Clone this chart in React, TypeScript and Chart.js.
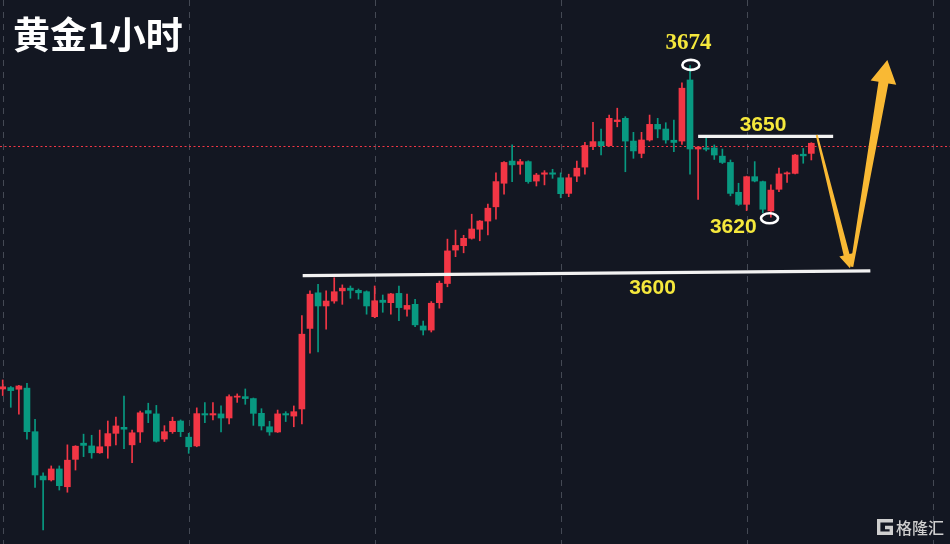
import React, { useEffect, useRef } from "react";
import { Chart, registerables } from "chart.js";

Chart.register(...registerables);

// ---- Data (gold, 1-hour candles) ----
const opens = [3557.3, 3557.8, 3557.2, 3557.6, 3541.7, 3525.5, 3524.1, 3528.1, 3521.6, 3531.6,
  3537.5, 3536.5, 3534.0, 3536.5, 3541.1, 3543.3, 3536.9, 3541.6, 3549.4, 3548.2,
  3539.0, 3541.7, 3545.6, 3539.7, 3536.5, 3548.3, 3547.8, 3548.2, 3546.7, 3554.3,
  3554.5, 3553.8, 3548.4, 3543.5, 3541.6, 3548.3, 3547.4, 3550.0, 3579.4, 3592.4,
  3587.6, 3589.4, 3593.1, 3594.1, 3593.3, 3592.8, 3583.7, 3589.7, 3588.8, 3592.2,
  3586.4, 3588.2, 3580.3, 3578.8, 3588.8, 3595.8, 3608.0, 3609.6, 3612.3, 3615.6,
  3618.6, 3623.8, 3632.4, 3640.5, 3639.3, 3640.3, 3633.2, 3635.7, 3636.2, 3634.4,
  3628.7, 3635.0, 3638.3, 3645.9, 3647.6, 3646.1, 3654.9, 3656.1, 3647.8, 3643.3,
  3648.2, 3653.9, 3652.2, 3648.1, 3647.8, 3670.1, 3644.9, 3645.3, 3645.3, 3642.3,
  3640.0, 3629.1, 3624.7, 3634.8, 3633.0, 3622.3, 3630.2, 3635.8, 3636.0, 3643.0,
  3643.3];

const highs = [3560.6, 3558.2, 3558.6, 3559.4, 3546.2, 3526.7, 3529.2, 3529.2, 3536.9, 3536.6,
  3540.8, 3540.4, 3542.3, 3545.6, 3547.0, 3554.7, 3542.3, 3549.2, 3552.1, 3551.3,
  3543.9, 3547.0, 3546.0, 3541.1, 3550.4, 3552.3, 3552.3, 3551.1, 3555.2, 3555.5,
  3557.3, 3554.0, 3550.1, 3545.5, 3549.6, 3549.0, 3551.1, 3584.1, 3593.1, 3595.5,
  3593.1, 3597.9, 3595.3, 3594.9, 3593.8, 3593.1, 3594.9, 3591.6, 3592.2, 3594.9,
  3591.9, 3590.0, 3582.1, 3589.2, 3596.7, 3612.0, 3615.3, 3613.4, 3621.1, 3618.8,
  3624.8, 3636.2, 3640.3, 3646.4, 3641.1, 3640.6, 3636.0, 3637.0, 3637.5, 3636.2,
  3635.7, 3640.5, 3647.3, 3654.6, 3652.2, 3657.3, 3659.8, 3656.7, 3651.0, 3651.0,
  3657.3, 3656.1, 3654.5, 3655.5, 3669.1, 3675.4, 3645.8, 3648.8, 3646.4, 3644.9,
  3640.9, 3632.4, 3635.0, 3640.3, 3633.2, 3631.8, 3637.9, 3636.6, 3643.0, 3645.1,
  3647.2];

const lows = [3554.9, 3550.6, 3548.1, 3539.0, 3521.4, 3505.8, 3523.7, 3520.4, 3519.6, 3527.7,
  3532.6, 3532.0, 3533.8, 3532.0, 3536.9, 3535.5, 3530.4, 3537.8, 3545.0, 3537.9,
  3538.1, 3541.1, 3539.9, 3533.8, 3536.2, 3545.0, 3546.0, 3541.6, 3544.5, 3552.4,
  3551.7, 3544.0, 3542.3, 3540.4, 3541.4, 3545.4, 3543.5, 3544.5, 3570.4, 3570.8,
  3579.1, 3588.6, 3588.2, 3590.4, 3590.1, 3584.6, 3583.3, 3585.3, 3584.6, 3582.2,
  3583.9, 3580.0, 3577.0, 3578.1, 3586.8, 3594.6, 3605.6, 3607.0, 3612.0, 3611.4,
  3613.5, 3619.3, 3628.4, 3633.0, 3635.7, 3632.4, 3631.4, 3631.8, 3634.2, 3627.1,
  3627.5, 3633.0, 3635.7, 3644.7, 3642.7, 3645.9, 3653.0, 3636.6, 3641.5, 3641.7,
  3647.8, 3649.0, 3647.0, 3643.9, 3646.6, 3635.7, 3626.5, 3644.2, 3641.1, 3639.6,
  3627.8, 3624.3, 3622.4, 3632.9, 3621.6, 3620.0, 3629.3, 3632.7, 3635.8, 3639.7,
  3640.9];

const closes = [3558.1, 3556.7, 3558.4, 3541.7, 3525.9, 3524.1, 3528.1, 3522.0, 3531.3, 3536.4,
  3536.7, 3534.0, 3536.2, 3541.0, 3543.8, 3542.6, 3541.3, 3548.6, 3548.4, 3538.2,
  3541.7, 3545.5, 3541.7, 3536.2, 3548.3, 3547.8, 3548.3, 3546.7, 3554.5, 3554.7,
  3553.8, 3548.4, 3543.8, 3541.6, 3548.2, 3547.8, 3549.0, 3577.3, 3591.9, 3587.6,
  3589.4, 3592.8, 3594.1, 3593.3, 3592.4, 3587.6, 3589.5, 3588.9, 3592.0, 3587.0,
  3587.8, 3580.7, 3578.8, 3588.6, 3595.9, 3607.7, 3609.7, 3612.3, 3615.7, 3618.6,
  3623.3, 3633.0, 3640.0, 3639.1, 3640.3, 3633.0, 3635.4, 3636.2, 3635.7, 3628.6,
  3634.4, 3637.9, 3646.2, 3647.6, 3646.1, 3656.1, 3655.5, 3647.8, 3644.2, 3648.2,
  3653.9, 3652.2, 3648.2, 3647.3, 3667.1, 3644.9, 3645.6, 3644.8, 3642.7, 3640.0,
  3628.7, 3624.7, 3634.8, 3633.2, 3622.9, 3629.9, 3635.8, 3636.2, 3642.7, 3642.4,
  3647.0];

// Vertical grid positions (candle index)
const gridIndices = [0, 23, 46, 69, 92, 115];

// Visible value window
const xRange = [-0.334, 117.15];
const yRange = [3500.7, 3699.3];

// Current price line
const currentPrice = 3646.1;

// Annotation anchors (candle index, price)
const resistanceLine = [[86.0, 3649.5], [102.7, 3649.5]];
const supportLine = [[37.1, 3598.7], [107.3, 3600.4]];
const downArrow = [[100.67, 3650.0], [104.78, 3601.35]];
const upArrow = [[105.0, 3601.9], [109.4, 3677.4]];
const circleMarks = [[85.1, 3675.6], [94.83, 3619.6]];
const priceLabels = ["3674", "3650", "3620", "3600"];
const priceLabelAnchors = [[84.81, 3683.8], [94.03, 3654.0], [90.35, 3616.7], [80.36, 3594.3]];

const titleText = "黄金1小时";
const logoText = "格隆汇";

const UP = "#f23645";
const DOWN = "#089981";
const BG = "#131722";
const YELLOW = "#f5e83c";
const ORANGE = "#f9b934";

function drawArrow(ctx: CanvasRenderingContext2D, x0: number, y0: number, x1: number, y1: number,
  tailW: number, shaftW: number, headLen: number, headW: number) {
  const dx = x1 - x0, dy = y1 - y0;
  const len = Math.hypot(dx, dy);
  const ux = dx / len, uy = dy / len;
  const nx = -uy, ny = ux;
  const bx = x1 - ux * headLen, by = y1 - uy * headLen;
  ctx.beginPath();
  ctx.moveTo(x0 + nx * tailW / 2, y0 + ny * tailW / 2);
  ctx.lineTo(bx + nx * shaftW / 2, by + ny * shaftW / 2);
  ctx.lineTo(bx + nx * headW / 2, by + ny * headW / 2);
  ctx.lineTo(x1, y1);
  ctx.lineTo(bx - nx * headW / 2, by - ny * headW / 2);
  ctx.lineTo(bx - nx * shaftW / 2, by - ny * shaftW / 2);
  ctx.lineTo(x0 - nx * tailW / 2, y0 - ny * tailW / 2);
  ctx.closePath();
  ctx.fill();
}

const overlayPlugin = {
  id: "overlay",
  beforeDraw(chart: any) {
    const ctx = chart.ctx;
    ctx.save();
    ctx.fillStyle = BG;
    ctx.fillRect(0, 0, chart.width, chart.height);
    ctx.restore();
  },
  beforeDatasetsDraw(chart: any) {
    const ctx = chart.ctx;
    const xs = chart.scales.x, ys = chart.scales.y;
    const { top, bottom, left, right } = chart.chartArea;
    ctx.save();
    // vertical dashed grid
    ctx.strokeStyle = "rgba(110,114,126,0.55)";
    ctx.lineWidth = 1;
    ctx.setLineDash([6, 6]);
    gridIndices.forEach((g) => {
      const x = Math.round(xs.getPixelForValue(g)) + 0.5;
      ctx.beginPath();
      ctx.moveTo(x, top);
      ctx.lineTo(x, bottom);
      ctx.stroke();
    });
    // current price dotted line
    ctx.strokeStyle = UP;
    ctx.lineWidth = 1.2;
    ctx.setLineDash([2, 2.5]);
    const py = Math.round(ys.getPixelForValue(currentPrice)) + 0.5;
    ctx.beginPath();
    ctx.moveTo(left, py);
    ctx.lineTo(right, py);
    ctx.stroke();
    ctx.restore();
  },
  afterDatasetsDraw(chart: any) {
    const ctx = chart.ctx;
    const xs = chart.scales.x, ys = chart.scales.y;
    const px = (p: number[]) => [xs.getPixelForValue(p[0]), ys.getPixelForValue(p[1])];
    ctx.save();

    // white horizontal levels
    ctx.strokeStyle = "#f2f2f2";
    ctx.lineWidth = 3.2;
    ctx.lineCap = "butt";
    [resistanceLine, supportLine].forEach((ln) => {
      const a = px(ln[0]), b = px(ln[1]);
      ctx.beginPath();
      ctx.moveTo(a[0], a[1]);
      ctx.lineTo(b[0], b[1]);
      ctx.stroke();
    });

    // arrows
    ctx.fillStyle = ORANGE;
    {
      const a = px(downArrow[0]), b = px(downArrow[1]);
      drawArrow(ctx, a[0], a[1], b[0], b[1], 2, 6, 14, 15);
    }
    {
      const a = px(upArrow[0]), b = px(upArrow[1]);
      drawArrow(ctx, a[0], a[1], b[0], b[1], 3, 10, 23, 26);
    }

    // circles
    ctx.strokeStyle = "#ffffff";
    ctx.lineWidth = 2.6;
    circleMarks.forEach((c) => {
      const p = px(c);
      ctx.beginPath();
      ctx.ellipse(p[0], p[1], 8.5, 5, 0, 0, Math.PI * 2);
      ctx.stroke();
    });

    // price labels
    ctx.fillStyle = YELLOW;
    ctx.textAlign = "center";
    ctx.textBaseline = "middle";
    priceLabels.forEach((t, i) => {
      const p = px(priceLabelAnchors[i]);
      ctx.font = i === 0 ? 'bold 23px "Liberation Serif"' : 'bold 21px "Liberation Sans"';
      ctx.fillText(t, p[0], p[1] + 1);
    });

    // title
    ctx.fillStyle = "#ffffff";
    ctx.textAlign = "left";
    ctx.font = 'bold 37px "Noto Sans CJK SC"';
    ctx.fillText(titleText, 13, 35);

    // logo
    ctx.strokeStyle = "#cfcfcf";
    ctx.lineWidth = 3.4;
    ctx.lineJoin = "miter";
    ctx.beginPath();
    ctx.moveTo(893, 520.7);
    ctx.lineTo(878.7, 520.7);
    ctx.lineTo(878.7, 533.3);
    ctx.lineTo(891.3, 533.3);
    ctx.lineTo(891.3, 527.5);
    ctx.lineTo(885, 527.5);
    ctx.stroke();
    ctx.fillStyle = "#cfcfcf";
    ctx.font = '500 16px "Noto Sans CJK SC"';
    ctx.fillText(logoText, 896, 527.5);

    ctx.restore();
  },
};

export default function App() {
  const canvasRef = useRef<HTMLCanvasElement | null>(null);

  useEffect(() => {
    document.body.style.margin = "0";
    document.body.style.background = BG;
    const canvas = canvasRef.current;
    if (!canvas) return;
    const colors = opens.map((o, i) => (closes[i] >= o ? UP : DOWN));
    const bodies = opens.map((o, i) => ({ x: i, y: [o, closes[i]] }));
    const wicks = lows.map((l, i) => ({ x: i, y: [l, highs[i]] }));

    const chart = new Chart(canvas, {
      type: "bar",
      data: {
        datasets: [
          {
            data: bodies as any,
            backgroundColor: colors,
            barThickness: 6,
            minBarLength: 1,
            borderWidth: 0,
            grouped: false,
            order: 0,
          } as any,
          {
            data: wicks as any,
            backgroundColor: colors,
            barThickness: 1,
            borderWidth: 0,
            grouped: false,
            order: 1,
          } as any,
        ],
      },
      options: {
        animation: false,
        responsive: false,
        maintainAspectRatio: false,
        layout: { padding: 0 },
        plugins: { legend: { display: false }, tooltip: { enabled: false } },
        scales: {
          x: { type: "linear", display: false, min: xRange[0], max: xRange[1], offset: false },
          y: { type: "linear", display: false, min: yRange[0], max: yRange[1] },
        },
      },
      plugins: [overlayPlugin],
    });
    return () => chart.destroy();
  }, []);

  return (
    <div style={{ width: 950, height: 544, background: BG }}>
      <canvas ref={canvasRef} width={950} height={544} style={{ display: "block" }} />
    </div>
  );
}
